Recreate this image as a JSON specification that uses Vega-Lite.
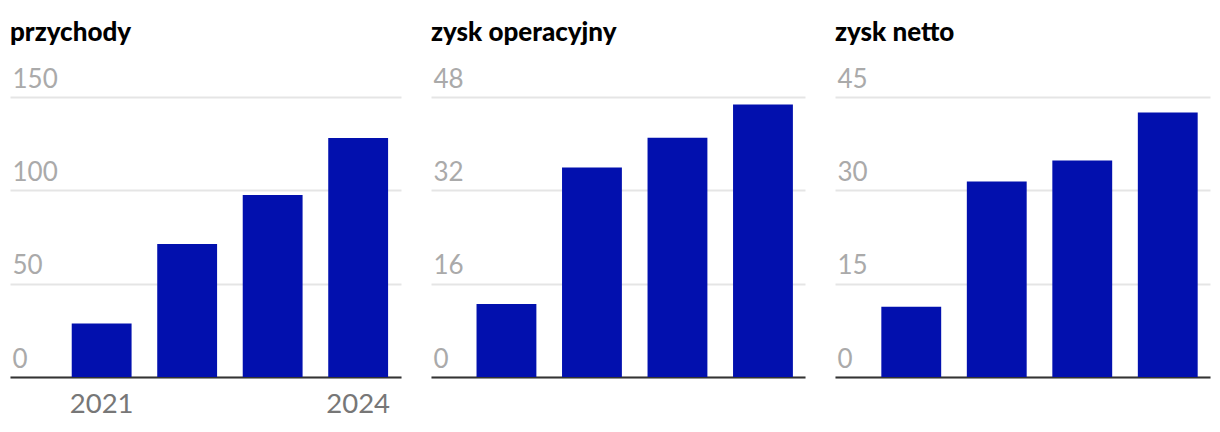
{
  "$schema": "https://vega.github.io/schema/vega-lite/v6.json",
  "background": "white",
  "padding": {"left": 10, "right": 10, "top": 20, "bottom": 10},
  "spacing": 30,
  "config": {
    "font": "Lato",
    "view": {"stroke": null},
    "title": {"anchor": "start", "frame": "group", "fontSize": 26, "fontWeight": 900, "color": "#000000", "font": "Lato", "offset": 20},
    "axisY": {
      "domain": false, "ticks": false, "tickSize": 0,
      "grid": true, "gridColor": "#e5e5e5", "gridWidth": 2,
      "labelAlign": "left", "labelBaseline": "alphabetic", "labelPadding": -2, "labelOffset": -10,
      "labelFontSize": 26, "labelColor": "#aaaaaa", "labelFont": "Lato", "title": null
    },
    "axisX": {
      "domain": true, "domainColor": "#333333", "domainWidth": 2,
      "ticks": false, "tickSize": 0, "grid": false,
      "labelFontSize": 27.5, "labelColor": "#777777", "labelFont": "Lato", "labelPadding": 13, "labelAngle": 0, "title": null
    }
  },
  "datasets": {
    "fin": [
      {"metric": "przychody", "year": 2021, "value": 28.6},
      {"metric": "przychody", "year": 2022, "value": 71.3},
      {"metric": "przychody", "year": 2023, "value": 97.5},
      {"metric": "przychody", "year": 2024, "value": 128.0},
      {"metric": "zysk operacyjny", "year": 2021, "value": 12.5},
      {"metric": "zysk operacyjny", "year": 2022, "value": 35.9},
      {"metric": "zysk operacyjny", "year": 2023, "value": 41.0},
      {"metric": "zysk operacyjny", "year": 2024, "value": 46.7},
      {"metric": "zysk netto", "year": 2021, "value": 11.3},
      {"metric": "zysk netto", "year": 2022, "value": 31.4},
      {"metric": "zysk netto", "year": 2023, "value": 34.8},
      {"metric": "zysk netto", "year": 2024, "value": 42.5}
    ]
  },
  "hconcat": [
    {
      "title": "przychody",
      "width": 391, "height": 280,
      "data": {"name": "fin"},
      "transform": [{"filter": "datum.metric === 'przychody'"}],
      "mark": {"type": "bar", "color": "#0210ae"},
      "encoding": {
        "x": {"field": "year", "type": "ordinal",
              "scale": {"paddingInner": 0.3, "paddingOuter": 0.4365, "align": 0.827},
              "axis": {"values": [2021, 2024]}},
        "y": {"field": "value", "type": "quantitative",
              "scale": {"domain": [0, 150], "nice": false},
              "axis": {"values": [0, 50, 100, 150]}}
      }
    },
    {
      "title": "zysk operacyjny",
      "width": 374, "height": 280,
      "data": {"name": "fin"},
      "transform": [{"filter": "datum.metric === 'zysk operacyjny'"}],
      "mark": {"type": "bar", "color": "#0210ae"},
      "encoding": {
        "x": {"field": "year", "type": "ordinal",
              "scale": {"paddingInner": 0.3, "paddingOuter": 0.337, "align": 0.79},
              "axis": {"labels": false}},
        "y": {"field": "value", "type": "quantitative",
              "scale": {"domain": [0, 48], "nice": false},
              "axis": {"values": [0, 16, 32, 48]}}
      }
    },
    {
      "title": "zysk netto",
      "width": 375, "height": 280,
      "data": {"name": "fin"},
      "transform": [{"filter": "datum.metric === 'zysk netto'"}],
      "mark": {"type": "bar", "color": "#0210ae"},
      "encoding": {
        "x": {"field": "year", "type": "ordinal",
              "scale": {"paddingInner": 0.3, "paddingOuter": 0.343, "align": 0.79},
              "axis": {"labels": false}},
        "y": {"field": "value", "type": "quantitative",
              "scale": {"domain": [0, 45], "nice": false},
              "axis": {"values": [0, 15, 30, 45]}}
      }
    }
  ]
}
